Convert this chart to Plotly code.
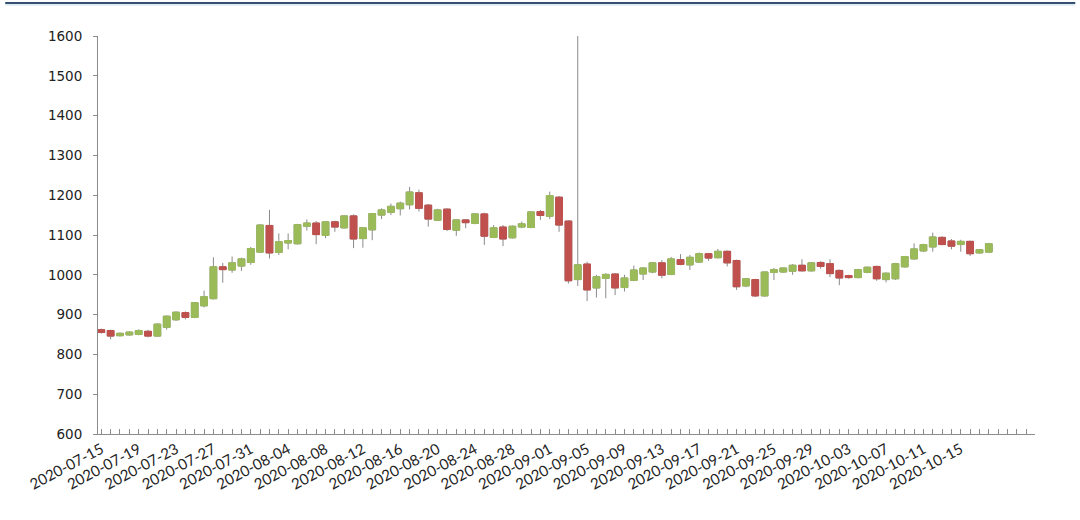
import pandas as pd
import plotly.graph_objects as go

# ---- data ----
open_ = [862, 860, 847, 849, 850, 858, 846, 868, 887, 905, 893, 922, 940, 1020, 1012, 1022,
         1031, 1057, 1124, 1056, 1080, 1078, 1122, 1130, 1099, 1133, 1118, 1148, 1091, 1113, 1150, 1157,
         1166, 1176, 1206, 1175, 1137, 1165, 1112, 1138, 1129, 1153, 1094, 1120, 1093, 1120, 1119, 1159,
         1147, 1195, 1135, 988, 1027, 967, 991, 1002, 968, 986, 1002, 1007, 1030, 1001, 1038, 1025,
         1032, 1053, 1043, 1059, 1036, 972, 988, 947, 1006, 1007, 1009, 1024, 1010, 1031, 1028, 1011,
         998, 993, 1006, 1021, 988, 990, 1020, 1040, 1060, 1070, 1094, 1085, 1076, 1084, 1055, 1057]
high_ = [865, 862, 855, 858, 863, 862, 878, 898, 908, 908, 931, 960, 1044, 1030, 1046, 1043,
         1070, 1127, 1163, 1104, 1104, 1128, 1139, 1135, 1134, 1136, 1150, 1152, 1120, 1155, 1167, 1179,
         1184, 1221, 1214, 1178, 1166, 1167, 1140, 1140, 1155, 1156, 1125, 1125, 1124, 1134, 1160, 1163,
         1209, 1198, 1137, 1600, 1033, 1000, 1004, 1004, 1000, 1023, 1019, 1032, 1037, 1045, 1052, 1050,
         1056, 1055, 1065, 1061, 1038, 991, 990, 1008, 1017, 1018, 1027, 1039, 1031, 1034, 1039, 1013,
         1000, 1015, 1021, 1023, 1006, 1030, 1047, 1079, 1078, 1106, 1097, 1090, 1088, 1086, 1065, 1080]
low_ = [852, 838, 845, 847, 848, 843, 845, 862, 884, 888, 891, 918, 938, 980, 1005, 1010,
        1025, 1055, 1041, 1050, 1064, 1076, 1111, 1077, 1092, 1108, 1116, 1067, 1068, 1087, 1140, 1150,
        1149, 1164, 1159, 1121, 1135, 1110, 1098, 1117, 1127, 1075, 1092, 1072, 1091, 1117, 1117, 1138,
        1140, 1108, 978, 972, 934, 943, 941, 949, 958, 984, 987, 1004, 991, 999, 1024, 1012,
        1030, 1035, 1041, 1021, 962, 969, 944, 945, 987, 1005, 1000, 1008, 1008, 1015, 994, 974,
        990, 991, 1004, 985, 981, 987, 1018, 1038, 1057, 1058, 1074, 1064, 1058, 1047, 1053, 1055]
close_ = [855, 846, 853, 856, 860, 846, 876, 896, 906, 893, 930, 945, 1020, 1013, 1030, 1040,
          1066, 1125, 1055, 1083, 1086, 1126, 1130, 1101, 1133, 1120, 1148, 1090, 1118, 1154, 1163, 1172,
          1180, 1208, 1167, 1140, 1163, 1114, 1138, 1131, 1153, 1097, 1118, 1090, 1122, 1128, 1158, 1149,
          1199, 1125, 985, 1025, 962, 995, 1001, 967, 992, 1012, 1017, 1030, 999, 1040, 1026, 1044,
          1053, 1042, 1059, 1030, 970, 990, 947, 1007, 1013, 1017, 1024, 1010, 1030, 1021, 1003, 992,
          993, 1013, 1019, 990, 1004, 1028, 1046, 1065, 1076, 1095, 1076, 1072, 1084, 1053, 1063, 1078]

dates = pd.date_range("2020-07-15", periods=len(open_), freq="D")
tick_dates = dates[::4]
tick_labels = [d.strftime("%Y-%m-%d") for d in tick_dates]
y_ticks = [600, 700, 800, 900, 1000, 1100, 1200, 1300, 1400, 1500, 1600]

UP = "#9bbb59"
DOWN = "#c0504d"
WICK = "#8a8a8a"
AXIS = "#8c8c8c"

body_hi = [max(o, c) for o, c in zip(open_, close_)]
body_lo = [min(o, c) for o, c in zip(open_, close_)]

fig = go.Figure()
# wicks (gray)
fig.add_trace(go.Candlestick(
    x=dates, open=open_, high=high_, low=low_, close=close_,
    increasing=dict(line=dict(color=WICK, width=1), fillcolor=UP),
    decreasing=dict(line=dict(color=WICK, width=1), fillcolor=DOWN),
    showlegend=False, hoverinfo="skip",
))
# bodies with their own colour border
fig.add_trace(go.Candlestick(
    x=dates, open=open_, high=body_hi, low=body_lo, close=close_,
    increasing=dict(line=dict(color=UP, width=1), fillcolor=UP),
    decreasing=dict(line=dict(color=DOWN, width=1), fillcolor=DOWN),
    showlegend=False,
))

fig.update_layout(
    width=1080, height=520, autosize=False,
    margin=dict(l=98, r=45, t=36, b=86),
    paper_bgcolor="white", plot_bgcolor="white",
    boxgap=0.28, boxgroupgap=0.0, boxmode="overlay",
    showlegend=False,
    xaxis=dict(
        type="date",
        range=["2020-07-14 15:30", "2020-10-22 22:40"],
        rangeslider=dict(visible=False),
        tickmode="array", tickvals=tick_dates, ticktext=tick_labels,
        tickangle=-28,
        tickfont=dict(family="Lato", size=15, color="#222222"),
        ticks="inside", ticklen=5, tickcolor=AXIS,
        minor=dict(dtick=86400000, tick0="2020-07-15", ticks="inside", ticklen=5,
                   tickcolor=AXIS, showgrid=False),
        showline=True, linecolor=AXIS, linewidth=1,
        showgrid=False, zeroline=False,
    ),
    yaxis=dict(
        range=[600, 1600],
        tickmode="array", tickvals=y_ticks,
        tickfont=dict(family="DejaVu Sans", size=13.5, color="#222222"),
        ticks="outside", ticklen=4, tickcolor=AXIS,
        ticklabelstandoff=8,
        showline=True, linecolor=AXIS, linewidth=1,
        showgrid=False, zeroline=False,
    ),
    shapes=[
        dict(type="line", xref="paper", yref="paper",
             x0=-0.099, x1=1.043, y0=1.083, y1=1.083,
             line=dict(color="#35516f", width=2)),
        dict(type="line", xref="paper", yref="paper",
             x0=-0.099, x1=1.043, y0=1.078, y1=1.078,
             line=dict(color="#c9dbe9", width=1)),
    ],
)

fig.write_html("out.html", config={"displayModeBar": False},
               post_script="document.body.style.margin='0';")
